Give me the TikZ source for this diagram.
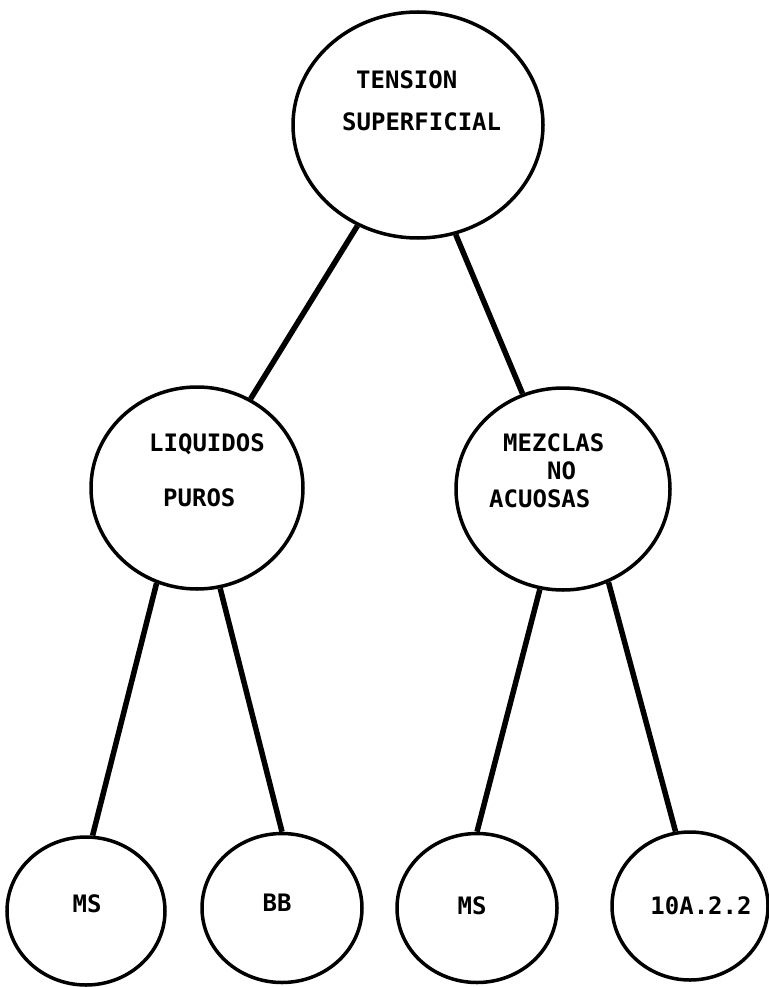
\documentclass[tikz,border=0pt]{standalone}
\usepackage{fontspec}
\setmonofont{DejaVu Sans Mono}
\usetikzlibrary{shapes.geometric}
\tikzset{
  bubble/.style={ellipse, draw, line width=3.5pt, inner sep=0pt},
  branch/.style={line width=5.5pt},
  caption/.style={font=\ttfamily\bfseries\fontsize{24}{28}\selectfont, inner sep=0pt}
}

\begin{document}
\begin{tikzpicture}[x=1pt, y=-1pt]
    \useasboundingbox (0,0) rectangle (768,987);

    % Top circle
    \node (top) [bubble, minimum width=250pt, minimum height=226pt] at (418,125) {};
    \node (tension) [caption, anchor=base west] at (356,89) {TENSION};
    \node (superf) [caption, anchor=base west] at (342,131) {SUPERFICIAL};

    % Middle row
    \node (puros) [bubble, minimum width=212pt, minimum height=202pt] at (197,488) {};
    \node (liq1) [caption, anchor=base west] at (149,451) {LIQUIDOS};
    \node (liq2) [caption, anchor=base west] at (163,506) {PUROS};

    \node (mezcla) [bubble, minimum width=214pt, minimum height=202pt] at (563,489) {};
    \node (mez1) [caption, anchor=base west] at (503,451) {MEZCLAS};
    \node (mez2) [caption, anchor=base west] at (547,479) {NO};
    \node (mez3) [caption, anchor=base west] at (489,507) {ACUOSAS};

    % Bottom row
    \node (ms1) [bubble, minimum width=158pt, minimum height=148pt] at (86,911) {};
    \node (ms1t) [caption, anchor=base] at (87,912) {MS};
    \node (bb) [bubble, minimum width=160pt, minimum height=149pt] at (282,908) {};
    \node (bbt) [caption, anchor=base] at (277,911) {BB};
    \node (ms2) [bubble, minimum width=160pt, minimum height=149pt] at (477,908) {};
    \node (ms2t) [caption, anchor=base] at (472,914) {MS};
    \node (ref) [bubble, minimum width=156pt, minimum height=148pt] at (690,906) {};
    \node (reft) [caption, anchor=base] at (701,914) {10A.2.2};

    % Branches
    \draw [branch] (top.239) -- (puros.59);
    \draw [branch] (top.289) -- (mezcla.113);
    \draw [branch] (puros.247) -- (ms1.85);
    \draw [branch] (puros.283) -- (bb.north);
    \draw [branch] (mezcla.257) -- (ms2.north);
    \draw [branch] (mezcla.296) -- (ref.101);
\end{tikzpicture}
\end{document}
